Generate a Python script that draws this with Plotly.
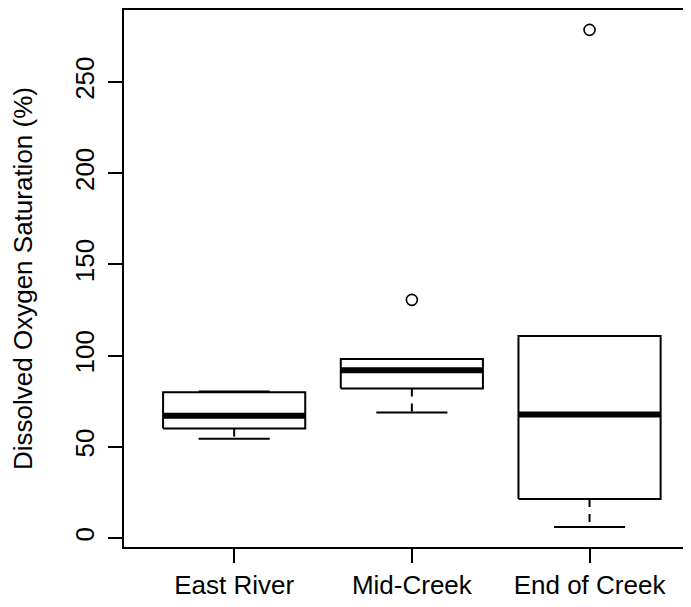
import plotly.graph_objects as go

# ---- data ----
groups = ["East River", "Mid-Creek", "End of Creek"]
lower_whisker = [54.4, 68.8, 6.0]
q1 = [60.05, 82.0, 21.4]
median = [67.0, 92.05, 67.7]
q3 = [79.9, 98.1, 110.8]
upper_whisker = [80.3, 98.1, 110.8]
outlier_group = [2, 3]
outlier_value = [130.6, 278.6]
y_ticks = [0, 50, 100, 150, 200, 250]

BOX_HALF = 0.4
CAP_HALF = 0.2
LW = 2
FS = 26

fig = go.Figure()
for i, name in enumerate(groups):
    x = i + 1
    fig.add_trace(go.Scatter(
        x=[x, x, None, x, x], y=[q1[i], lower_whisker[i], None, q3[i], upper_whisker[i]],
        mode="lines", line=dict(color="black", width=LW, dash="8px,7px"),
        hoverinfo="skip", showlegend=False))
    fig.add_trace(go.Scatter(
        x=[x - CAP_HALF, x + CAP_HALF, None, x - CAP_HALF, x + CAP_HALF],
        y=[lower_whisker[i], lower_whisker[i], None, upper_whisker[i], upper_whisker[i]],
        mode="lines", line=dict(color="black", width=LW),
        hoverinfo="skip", showlegend=False))
    fig.add_trace(go.Scatter(
        x=[x - BOX_HALF, x + BOX_HALF, x + BOX_HALF, x - BOX_HALF, x - BOX_HALF],
        y=[q1[i], q1[i], q3[i], q3[i], q1[i]],
        mode="lines", line=dict(color="black", width=LW),
        fill="toself", fillcolor="white",
        hoverinfo="skip", showlegend=False))
    fig.add_trace(go.Scatter(
        x=[x - BOX_HALF, x + BOX_HALF], y=[median[i], median[i]],
        mode="lines", line=dict(color="black", width=6),
        hoverinfo="skip", showlegend=False))

fig.add_trace(go.Scatter(
    x=outlier_group, y=outlier_value, mode="markers",
    marker=dict(symbol="circle-open", size=11, color="black", line=dict(width=1.6)),
    hoverinfo="skip", showlegend=False))

# page body has an 8px default margin; compensate so the plot sits where the reference has it
fig.update_layout(
    width=683, height=599,
    margin=dict(l=116, r=0, t=2, b=60),
    plot_bgcolor="white", paper_bgcolor="white",
    font=dict(family="Liberation Sans, Arial, sans-serif", size=FS, color="black"),
)
fig.update_xaxes(
    range=[0.38, 3.571], tickmode="array", tickvals=[1, 2, 3], ticktext=groups,
    showgrid=False, zeroline=False, showline=True, mirror=True,
    linecolor="black", linewidth=2, ticks="outside", ticklen=14, tickwidth=2,
    tickcolor="black", tickfont=dict(size=FS),
)
fig.update_yaxes(
    range=[-4.9, 289.5], tickmode="array", tickvals=y_ticks,
    ticktext=[str(v) for v in y_ticks],
    showgrid=False, zeroline=False, showline=True, mirror=False,
    linecolor="black", linewidth=2, ticks="outside", ticklen=14, tickwidth=2,
    tickcolor="black", tickangle=-90, tickfont=dict(size=FS), ticklabelstandoff=4,
    title=dict(text="Dissolved Oxygen Saturation (%)", font=dict(size=FS), standoff=30),
)

fig.write_html("out.html")
